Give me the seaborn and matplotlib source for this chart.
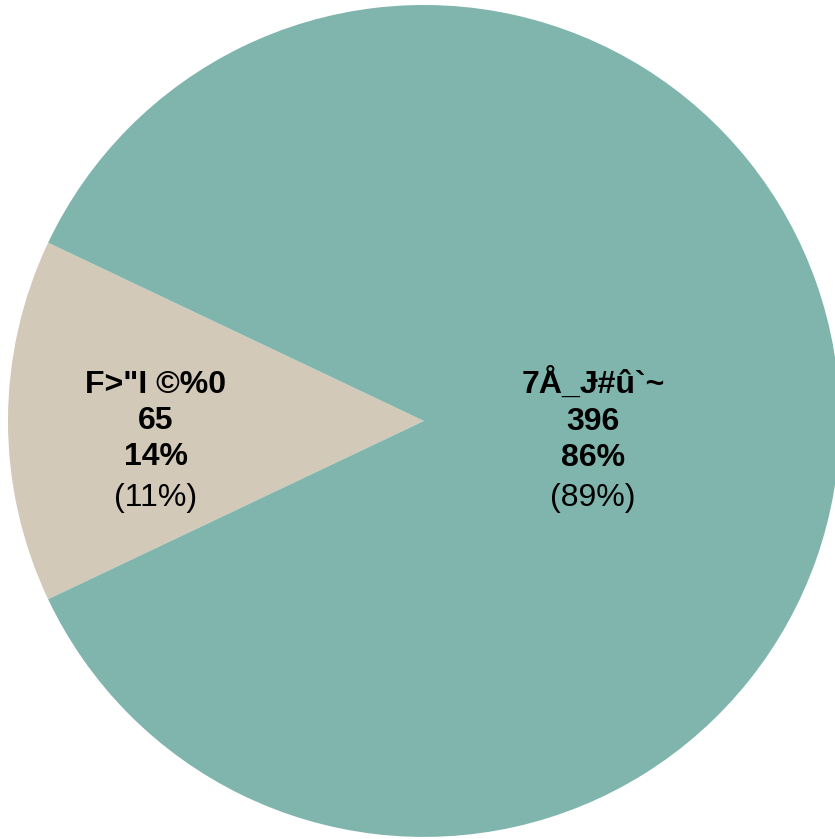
import numpy as np
import matplotlib
matplotlib.use("Agg")
import matplotlib.pyplot as plt
import seaborn as sns

names = ['F>"I ©%0', '7Å_Ɉ#û`~']
counts = [65, 396]
shares = ['14%', '86%']
other_shares = ['(11%)', '(89%)']
colors = ['#D2C9B8', '#7FB5AD']
label_radius = [0.645, 0.407]

sns.set_style("white")
plt.rcParams['font.family'] = ['Liberation Sans', 'DejaVu Sans']

fig = plt.figure(figsize=(8.35, 8.39), dpi=100)
ax = fig.add_axes([0, 0, 1, 1])

frac_small = counts[0] / sum(counts)
start = 180 - frac_small * 360 / 2
wedges, _ = ax.pie(counts, colors=colors, startangle=start, counterclock=True,
                   radius=1, center=(0, 0),
                   wedgeprops=dict(linewidth=0))

for w, name, n, s, o, r in zip(wedges, names, counts, shares, other_shares, label_radius):
    mid = np.deg2rad((w.theta1 + w.theta2) / 2)
    x, y = r * np.cos(mid), r * np.sin(mid)
    ax.text(x, y, f"{name}\n{n}\n{s}", ha='center', va='center', color='black',
            fontsize=23, fontweight='bold', linespacing=1.27)
    ax.text(x, y - 0.186, o, ha='center', va='center', fontsize=23, color='black')

ax.set_xlim(-1.019, 0.988)
ax.set_ylim(-1.005, 1.012)
ax.set_aspect('equal')
ax.axis('off')

fig.savefig("out.png", dpi=100)
